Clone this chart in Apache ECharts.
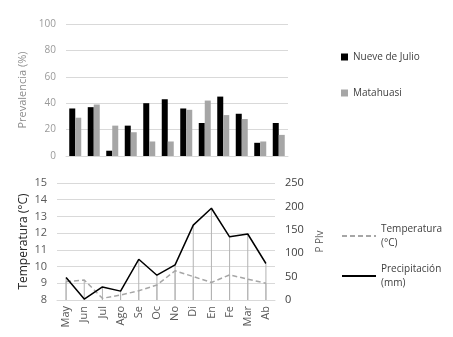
<!DOCTYPE html>
<html>
<head>
<meta charset="utf-8">
<script src="https://cdn.jsdelivr.net/npm/echarts@6/dist/echarts.min.js"></script>
<style>
  html, body { margin: 0; padding: 0; background: #fff; }
  #chart { width: 453px; height: 337px; }
</style>
</head>
<body>
<div id="chart"></div>
<script>
"use strict";
// datos
var meses = ['May', 'Jun', 'Jul', 'Ago', 'Se', 'Oc', 'No', 'Di', 'En', 'Fe', 'Mar', 'Ab'];
var nueveDeJulio = [36, 37, 4, 23, 40, 43, 36, 25, 45, 32, 10, 25];
var matahuasi = [29, 39, 23, 18, 11, 11, 35, 42, 31, 28, 11, 16];
var temperatura = [9.1, 9.2, 8.1, 8.3, 8.55, 8.9, 9.75, 9.4, 9.05, 9.5, 9.25, 9.0];
var precipitacion = [48, 2, 28, 19, 87, 53, 75, 160, 196, 135, 141, 78];

var gris = '#595959';
var rejilla = '#d9d9d9';

function initGraph() {
    var myChart = echarts.init(document.getElementById('chart'));
    var option = {
        animation: false,
        textStyle: { fontFamily: 'Open Sans' },
        legend: [
            {
                data: ['Nueve de Julio', 'Matahuasi'],
                orient: 'vertical',
                left: 336, top: 47,
                itemGap: 26, itemWidth: 7, itemHeight: 7,
                icon: 'rect',
                textStyle: { color: '#404040', fontSize: 10 }
            },
            {
                data: ['Temperatura\n(°C)', 'Precipitación\n(mm)'],
                orient: 'vertical',
                left: 336, top: 217,
                itemGap: 12, itemWidth: 34, itemHeight: 10,
                itemStyle: { opacity: 0 },
                textStyle: { color: '#404040', fontSize: 10, lineHeight: 14 }
            }
        ],
        grid: [
            { left: 66, right: 165, top: 24, height: 132 },
            { left: 57, right: 178, top: 183, height: 117 }
        ],
        xAxis: [
            {
                gridIndex: 0, type: 'category', data: meses,
                axisLine: { lineStyle: { color: rejilla } },
                axisTick: { show: false }, axisLabel: { show: false }
            },
            {
                gridIndex: 1, type: 'category', data: meses,
                axisLine: { lineStyle: { color: rejilla } },
                axisTick: { show: false },
                axisLabel: { rotate: 90, color: gris, fontSize: 11, margin: 6 }
            }
        ],
        yAxis: [
            {
                gridIndex: 0, type: 'value', min: 0, max: 100, interval: 20,
                name: 'Prevalencia (%)', nameLocation: 'middle', nameGap: 38,
                nameTextStyle: { color: '#8c8c8c', fontSize: 11 },
                axisLabel: { color: '#9a9a9a', fontSize: 10, margin: 10 },
                splitLine: { lineStyle: { color: rejilla } }
            },
            {
                gridIndex: 1, type: 'value', min: 8, max: 15, interval: 1,
                name: 'Temperatura (°C)', nameLocation: 'middle', nameGap: 27,
                nameTextStyle: { color: '#262626', fontSize: 12 },
                axisLabel: { color: gris, fontSize: 11, margin: 10 },
                splitLine: { lineStyle: { color: rejilla } }
            },
            {
                gridIndex: 1, type: 'value', min: 0, max: 250, interval: 50,
                position: 'right',
                name: 'P Plv', nameLocation: 'middle', nameGap: 40, nameRotate: 90,
                nameTextStyle: { color: gris, fontSize: 10 },
                axisLabel: { color: '#404040', fontSize: 11, margin: 10 },
                splitLine: { show: false }
            }
        ],
        series: [
            {
                name: 'Nueve de Julio', type: 'bar', xAxisIndex: 0, yAxisIndex: 0,
                data: nueveDeJulio, barWidth: 6, barGap: '0%',
                itemStyle: { color: '#000000' }
            },
            {
                name: 'Matahuasi', type: 'bar', xAxisIndex: 0, yAxisIndex: 0,
                data: matahuasi, barWidth: 6,
                itemStyle: { color: '#a6a6a6' }
            },
            // lineas de caida
            {
                name: 'caidaT', type: 'bar', xAxisIndex: 1, yAxisIndex: 1,
                data: temperatura, barWidth: 1, barGap: '-100%',
                itemStyle: { color: '#b3b3b3' }, silent: true
            },
            {
                name: 'caidaP', type: 'bar', xAxisIndex: 1, yAxisIndex: 2,
                data: precipitacion, barWidth: 1, barGap: '-100%',
                itemStyle: { color: '#b3b3b3' }, silent: true
            },
            {
                name: 'Temperatura\n(°C)', type: 'line', xAxisIndex: 1, yAxisIndex: 1,
                data: temperatura, symbol: 'none',
                lineStyle: { color: '#a6a6a6', width: 1.5, type: [5, 3] },
                itemStyle: { color: '#a6a6a6' }
            },
            {
                name: 'Precipitación\n(mm)', type: 'line', xAxisIndex: 1, yAxisIndex: 2,
                data: precipitacion, symbol: 'none',
                lineStyle: { color: '#000000', width: 1.5 },
                itemStyle: { color: '#000000' }
            }
        ]
    };
    myChart.setOption(option);
    return myChart;
}

var myChart = initGraph();
window.onresize = function () {
    myChart.resize();
};
</script>
</body>
</html>
